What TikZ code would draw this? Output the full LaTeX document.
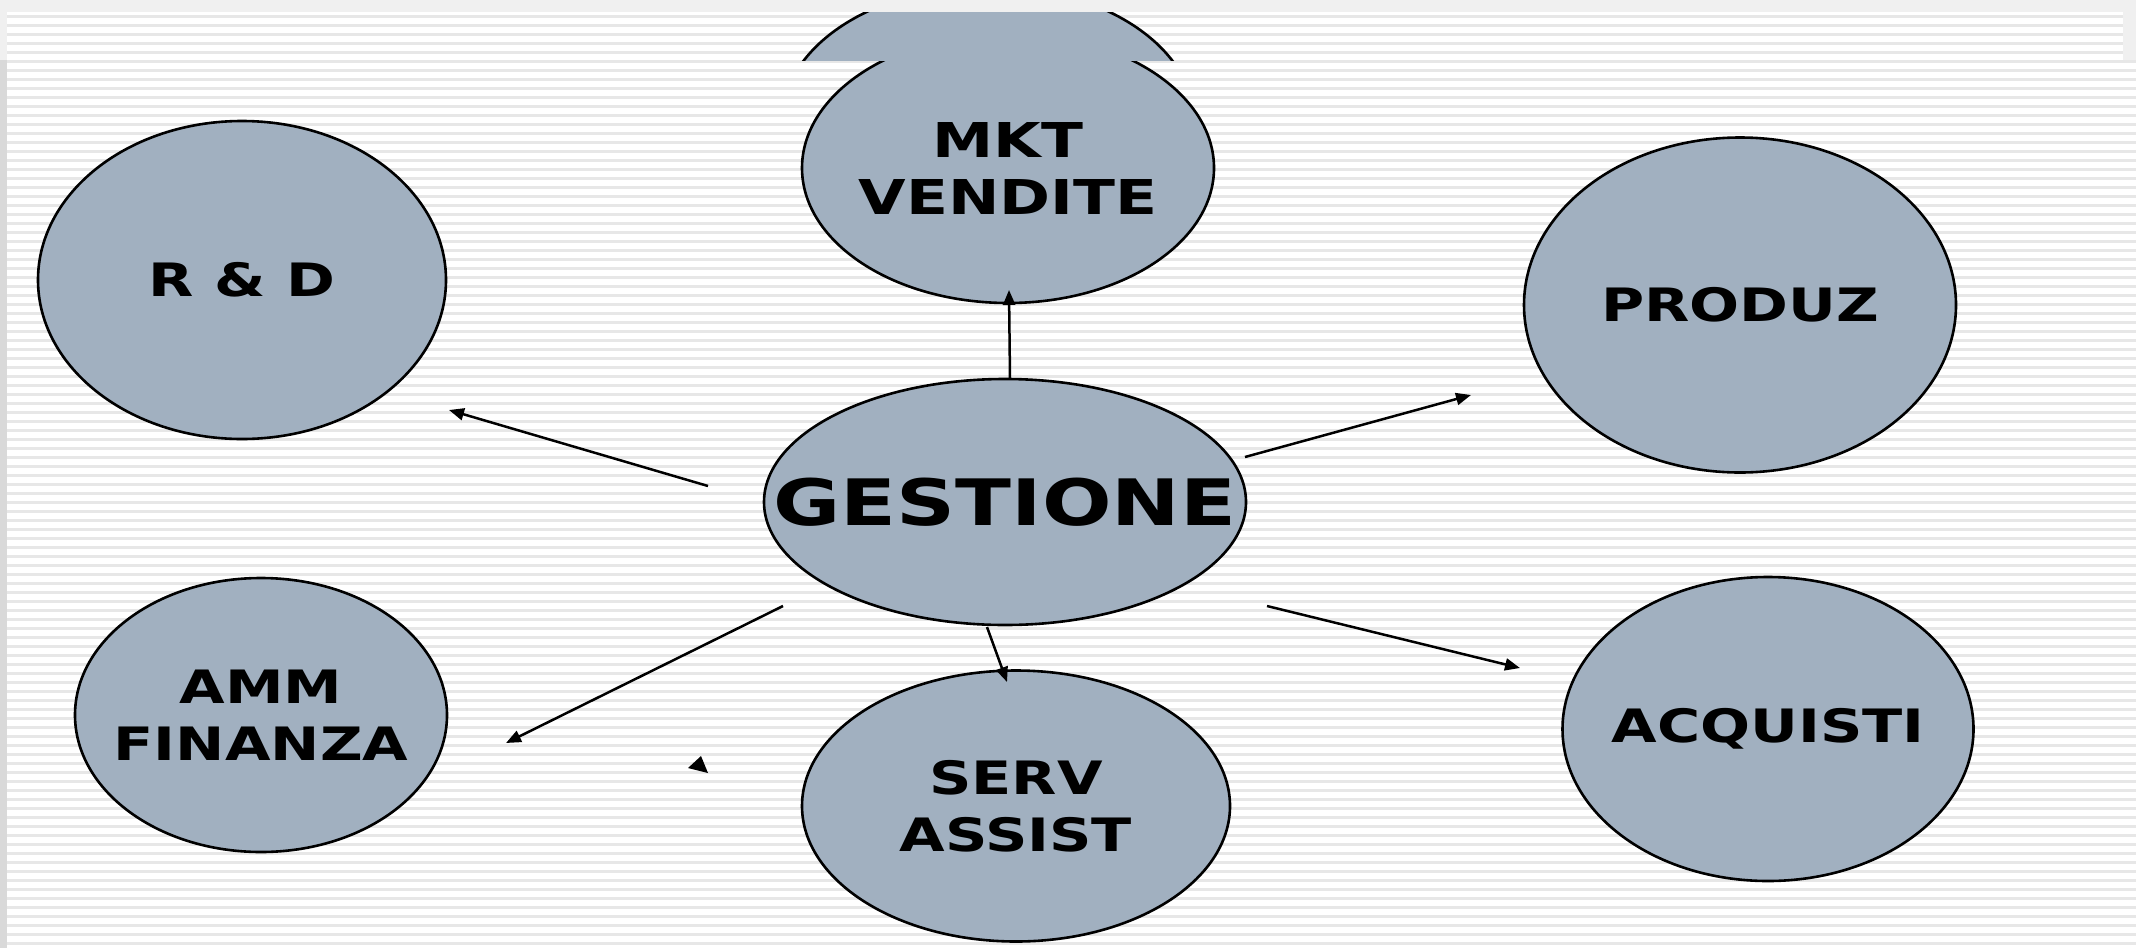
\documentclass[tikz,border=0pt]{standalone}
\usepackage{fontspec}
\newfontfamily\lblfont[FakeStretch=1.28]{DejaVu Sans}
\usetikzlibrary{shapes.geometric,arrows.meta}
\definecolor{bubble}{RGB}{161,176,192}
\definecolor{stripe}{RGB}{231,231,231}
\definecolor{band}{RGB}{240,240,240}
\definecolor{leftband}{RGB}{217,217,217}
\newcommand{\zw}[1]{\makebox[0pt]{#1}}
\begin{document}
\begin{tikzpicture}[x=1pt,y=-1pt,
  bub/.style={ellipse, draw=black, line width=2.6pt, fill=bubble, inner sep=0pt, align=center,
    font=\lblfont\bfseries\fontsize{46}{57}\selectfont},
  arr/.style={draw=black, line width=2.5pt, -{Triangle[length=15pt,width=12pt]}}]
\useasboundingbox (0,0) rectangle (2136,948);
% background
\fill[band] (0,0) rectangle (2136,948);
\fill[white] (7,12) rectangle (2123,60);
\fill[white] (7,60) rectangle (2136,948);
\fill[leftband] (0,60) rectangle (7,948);
\foreach \k in {0,...,4} \fill[stripe] (7,{15+9*\k}) rectangle (2123,{18+9*\k});
\foreach \k in {5,...,103} \fill[stripe] (7,{15+9*\k}) rectangle (2136,{18+9*\k});
% nodes
\node[bub, minimum width=412pt, minimum height=270pt, font=\lblfont\bfseries\fontsize{48}{57}\selectfont] (mkt) at (1008,168) {\zw{MKT}\\\zw{VENDITE}};
\begin{scope}
  \clip (780,12) rectangle (1240,60);
  \draw[line width=2.6pt, fill=bubble] (988,121) ellipse [x radius=206, y radius=135];
\end{scope}
\node[bub, minimum width=408pt, minimum height=318pt] (rd) at (242,280) {\zw{R \& D}};
\node[bub, minimum width=432pt, minimum height=335pt] (pro) at (1740,305) {\zw{PRODUZ}};
\node[bub, minimum width=482pt, minimum height=246pt, font=\lblfont\bfseries\fontsize{64}{70}\selectfont] (gest) at (1005,502) {\zw{GESTIONE}};
\node[bub, minimum width=372pt, minimum height=274pt] (amm) at (261,715) {\zw{AMM}\\\zw{FINANZA}};
\node[bub, minimum width=428pt, minimum height=271pt] (serv) at (1016,806) {\zw{SERV}\\\zw{ASSIST}};
\node[bub, minimum width=411pt, minimum height=304pt] (acq) at (1768,729) {\zw{ACQUISTI}};
% connectors
\draw[arr] ([shift={(5,-123)}]gest.center) -- ([shift={(1,122)}]mkt.center);
\draw[arr] ([shift={(-297,-16)}]gest.center) -- ([shift={(207,130)}]rd.center);
\draw[arr] ([shift={(240,-45)}]gest.center) -- ([shift={(-269,90)}]pro.center);
\draw[arr] ([shift={(-222,104)}]gest.center) -- ([shift={(245,28)}]amm.center);
\draw[arr] ([shift={(-18,125)}]gest.center) -- ([shift={(-9,-124)}]serv.center);
\draw[arr] ([shift={(262,104)}]gest.center) -- ([shift={(-248,-61)}]acq.center);
% stray arrowhead
\fill (688,768) -- (701,756) -- (708,773) -- cycle;
\end{tikzpicture}
\end{document}
